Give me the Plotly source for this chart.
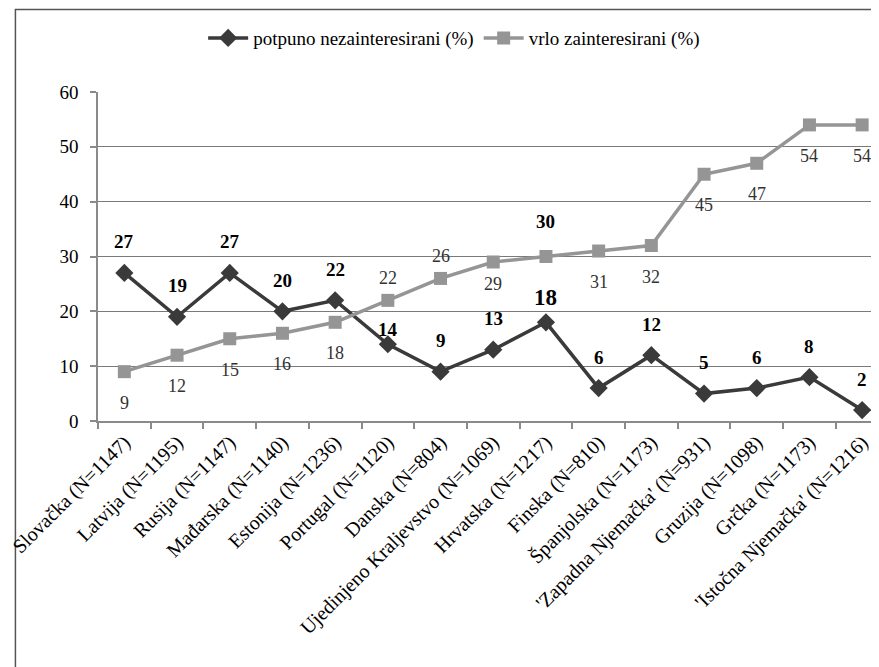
import plotly.graph_objects as go

categories = ["Slovačka (N=1147)", "Latvija (N=1195)", "Rusija (N=1147)", "Mađarska (N=1140)",
              "Estonija (N=1236)", "Portugal (N=1120)", "Danska (N=804)",
              "Ujedinjeno Kraljevstvo (N=1069)", "Hrvatska (N=1217)", "Finska (N=810)",
              "Španjolska (N=1173)", "'Zapadna Njemačka' (N=931)", "Gruzija (N=1098)",
              "Grčka (N=1173)", "'Istočna Njemačka' (N=1216)"]
nezainteresirani = [27, 19, 27, 20, 22, 14, 9, 13, 18, 6, 12, 5, 6, 8, 2]
zainteresirani = [9, 12, 15, 16, 18, 22, 26, 29, 30, 31, 32, 45, 47, 54, 54]
# label placement: +1 above, -1 below
gray_label_side = [-1, -1, -1, -1, -1, 1, 1, -1, 1, -1, -1, -1, -1, -1, -1]

FONT = "Liberation Serif, Times New Roman, serif"
DARK = "#3a3a3a"
GRAY = "#959595"

fig = go.Figure()
fig.add_trace(go.Scatter(
    x=categories, y=nezainteresirani, mode="lines+markers",
    name="potpuno nezainteresirani (%)",
    line=dict(color=DARK, width=3.5),
    marker=dict(symbol="diamond", size=14, color=DARK),
))
fig.add_trace(go.Scatter(
    x=categories, y=zainteresirani, mode="lines+markers",
    name="vrlo zainteresirani (%)",
    line=dict(color=GRAY, width=3.5),
    marker=dict(symbol="square", size=13, color=GRAY),
))

annotations = []
for i, (c, v) in enumerate(zip(categories, nezainteresirani)):
    shift = 31
    size = 19
    if v == 14:
        shift = 15
    if c.startswith("Hrvatska"):
        shift = 25
        size = 23
    annotations.append(dict(x=c, y=v, text=f"<b>{v}</b>", showarrow=False, yshift=shift,
                            font=dict(family=FONT, size=size, color="#000000")))
for i, (c, v) in enumerate(zip(categories, zainteresirani)):
    side = gray_label_side[i]
    if c.startswith("Hrvatska"):
        annotations.append(dict(x=c, y=v, text=f"<b>{v}</b>", showarrow=False, yshift=35,
                                font=dict(family=FONT, size=19, color="#000000")))
        continue
    shift = 31 if side < 0 else 22
    if v == 29:
        shift = 22
    annotations.append(dict(x=c, y=v, text=str(v), showarrow=False, yshift=side * shift,
                            font=dict(family=FONT, size=18, color="#333333")))

fig.update_layout(
    width=871, height=659,
    margin=dict(l=84, r=0, t=84, b=246),
    paper_bgcolor="white", plot_bgcolor="white",
    font=dict(family=FONT, size=18, color="#000000"),
    showlegend=True,
    legend=dict(orientation="h", x=0.456, xanchor="center", y=1.164, yanchor="middle",
                font=dict(family=FONT, size=19), bgcolor="rgba(0,0,0,0)",
                itemwidth=40),
    annotations=annotations,
    shapes=[dict(type="rect", xref="paper", yref="paper",
                 x0=-84 / 787 + 0.001, x1=1.05, y0=-0.8, y1=1 + (84 - 1.5) / 329,
                 line=dict(color="#555555", width=1.5), fillcolor="rgba(0,0,0,0)", layer="below")],
)
fig.update_xaxes(
    type="category", range=[-0.5, 14.32], tickangle=-45,
    showline=True, linecolor="#8a8a8a", linewidth=1.5,
    ticks="outside", tickson="boundaries", ticklen=6, tickcolor="#8a8a8a", tickwidth=1.5,
    showgrid=False, tickfont=dict(family=FONT, size=20, color="#000000"),
)
fig.update_yaxes(
    range=[0, 60], dtick=10, tick0=0,
    showline=True, linecolor="#8a8a8a", linewidth=1.5,
    ticks="outside", ticklen=6, tickcolor="#8a8a8a", tickwidth=1.5,
    showgrid=True, gridcolor="#7a7a7a", gridwidth=1.2,
    zeroline=False, ticklabelstandoff=8,
    tickfont=dict(family=FONT, size=19, color="#000000"),
)

fig.write_html("out.html")
